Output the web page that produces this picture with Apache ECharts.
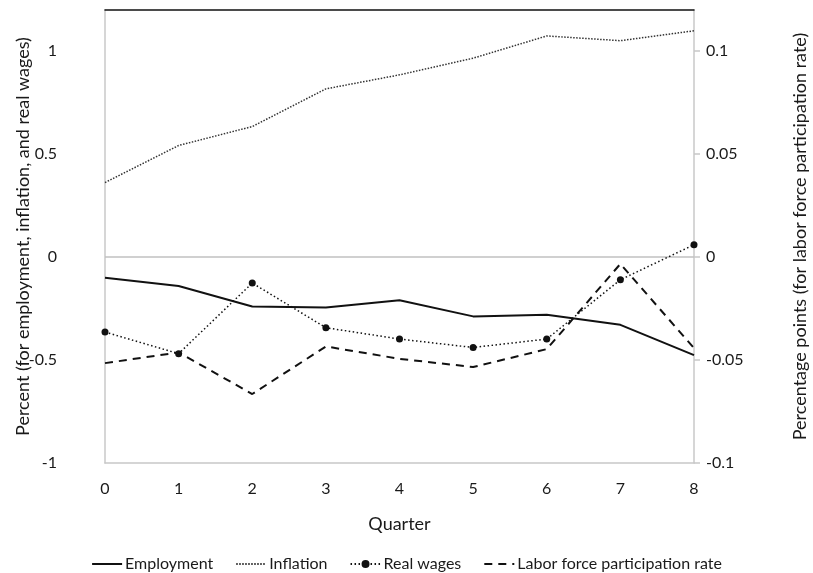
<!DOCTYPE html>
<html>
<head>
<meta charset="utf-8">
<script src="https://cdn.jsdelivr.net/npm/echarts@6/dist/echarts.min.js"></script>
<style>
  html, body { margin: 0; padding: 0; background: #fff; }
  #chart { width: 813px; height: 573px; }
</style>
</head>
<body>
<div id="chart"></div>
<script>
  const quarters = ['0', '1', '2', '3', '4', '5', '6', '7', '8'];
  const employment = [-0.10, -0.14, -0.24, -0.245, -0.21, -0.288, -0.28, -0.329, -0.476];
  const inflation = [0.362, 0.542, 0.634, 0.817, 0.885, 0.966, 1.074, 1.051, 1.099];
  const realWages = [-0.364, -0.469, -0.126, -0.343, -0.398, -0.439, -0.398, -0.110, 0.060];
  const laborForce = [-0.0515, -0.0463, -0.0665, -0.0434, -0.0494, -0.0534, -0.0447, -0.0033, -0.0442];

  const font = 'Lato, "Noto Sans", sans-serif';
  const txt = '#1a1a1a';
  // line-only legend entries: hide the marker, keep the line
  const noMarker = { opacity: 0 };

  const chart = echarts.init(document.getElementById('chart'));
  const option = {
    backgroundColor: '#fff',
    animation: false,
    textStyle: { fontFamily: font },
    grid: { left: 105, right: 119, top: 10, bottom: 110, outerBoundsMode: 'none', containLabel: false },
    legend: {
      top: 551,
      left: 'center',
      itemWidth: 30,
      itemHeight: 10,
      itemGap: 22,
      textStyle: { fontFamily: font, fontSize: 16, color: txt, padding: [0, 0, 0, -2] },
      data: [
        { name: 'Employment', itemStyle: noMarker },
        { name: 'Inflation', itemStyle: noMarker },
        { name: 'Real wages' },
        { name: 'Labor force participation rate', itemStyle: noMarker }
      ]
    },
    xAxis: [{
      type: 'category',
      data: quarters,
      boundaryGap: false,
      position: 'bottom',
      name: 'Quarter',
      nameLocation: 'middle',
      nameGap: 52,
      nameTextStyle: { fontSize: 18, color: txt },
      axisLine: { onZero: false, lineStyle: { color: '#c8c8c8', width: 1.5 } },
      axisTick: { show: false },
      axisLabel: { fontSize: 16, color: txt, margin: 18 },
      splitLine: { show: false }
    }, {
      type: 'category',
      data: quarters,
      boundaryGap: false,
      position: 'top',
      axisLine: { onZero: false, lineStyle: { color: '#111', width: 1.5 } },
      axisTick: { show: false },
      axisLabel: { show: false },
      splitLine: { show: false }
    }],
    yAxis: [{
      type: 'value',
      min: -1,
      max: 1.2,
      interval: 0.5,
      position: 'left',
      name: 'Percent (for employment, inflation, and real wages)',
      nameLocation: 'middle',
      nameGap: 73,
      nameMoveOverlap: false,
      nameTextStyle: { fontSize: 18, color: txt },
      axisLine: { show: true, lineStyle: { color: '#c8c8c8', width: 1.5 } },
      axisTick: { show: false },
      axisLabel: { fontSize: 16, color: txt, margin: 48, showMaxLabel: false },
      splitLine: { show: false }
    }, {
      type: 'value',
      min: -0.1,
      max: 0.12,
      interval: 0.05,
      position: 'right',
      name: 'Percentage points (for labor force participation rate)',
      nameLocation: 'middle',
      nameGap: 97,
      nameRotate: 90,
      nameTextStyle: { fontSize: 18, color: txt },
      axisLine: { show: true, lineStyle: { color: '#c8c8c8', width: 1.5 } },
      axisTick: { show: true, length: 6, lineStyle: { color: '#c8c8c8', width: 1.5 } },
      axisLabel: { fontSize: 16, color: txt, margin: 12, showMaxLabel: false },
      splitLine: { show: false }
    }],
    series: [{
      name: 'Employment',
      type: 'line',
      data: employment,
      symbol: 'none',
      color: '#111',
      lineStyle: { color: '#111', width: 2 },
      markLine: {
        silent: true,
        symbol: 'none',
        label: { show: false },
        lineStyle: { color: '#c0c0c0', width: 1.5, type: 'solid' },
        data: [{ yAxis: 0 }]
      },
      z: 4
    }, {
      name: 'Inflation',
      type: 'line',
      data: inflation,
      symbol: 'none',
      color: '#333',
      lineStyle: { color: '#333', width: 1.5, type: [1.5, 1.5] },
      z: 3
    }, {
      name: 'Real wages',
      type: 'line',
      data: realWages,
      symbol: 'circle',
      symbolSize: 7,
      color: '#111',
      itemStyle: { color: '#111' },
      lineStyle: { color: '#111', width: 1.5, type: [1.5, 2.5] },
      z: 5
    }, {
      name: 'Labor force participation rate',
      type: 'line',
      yAxisIndex: 1,
      data: laborForce,
      symbol: 'none',
      color: '#111',
      lineStyle: { color: '#111', width: 2, type: [8, 6] },
      z: 4
    }]
  };
  chart.setOption(option);
</script>
</body>
</html>
